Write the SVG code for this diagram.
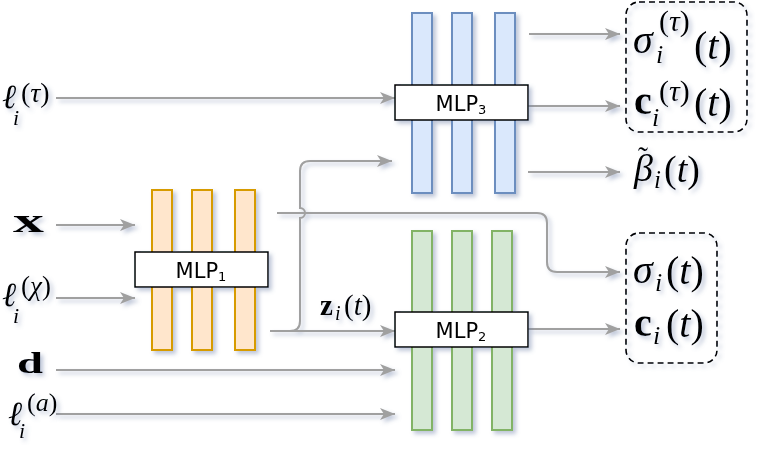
<svg xmlns="http://www.w3.org/2000/svg" width="772" height="460" viewBox="0 0 772 460">
<defs>
  <filter id="sh" x="-20%" y="-20%" width="140%" height="140%">
    <feDropShadow dx="3" dy="3" stdDeviation="2" flood-color="#7080a8" flood-opacity="0.45"/>
  </filter>
  <marker id="ah" markerUnits="userSpaceOnUse" markerWidth="16" markerHeight="12" refX="15" refY="6" orient="auto">
    <path d="M0,0 L15,6 L0,12 L4,6 z" fill="#a0a0a0"/>
  </marker>
</defs>
<style>
  .conn{fill:none;stroke:#a0a0a0;stroke-width:2;marker-end:url(#ah)}
  .bo{fill:#ffe6cc;stroke:#d79b00;stroke-width:2}
  .bb{fill:#dae8fc;stroke:#6c8ebf;stroke-width:2}
  .bg{fill:#d5e8d4;stroke:#82b366;stroke-width:2}
  .lbl{fill:#fff;stroke:#000;stroke-width:1.5}
  .mlp{font-family:"DejaVu Sans",sans-serif;font-size:21px;fill:#000}
  .m{font-family:"Liberation Serif","DejaVu Serif",serif;fill:#000}
  .it{font-style:italic}
  .up{font-style:normal}
  .dash{fill:none;stroke:#000;stroke-width:1.6;stroke-dasharray:6,4}
</style>

<g id="connectors" filter="url(#sh)">
  <path class="conn" d="M56,98 H395"/>
  <path class="conn" d="M56,225 H135"/>
  <path class="conn" d="M56,298 H135"/>
  <path class="conn" d="M56,370 H395"/>
  <path class="conn" d="M56,414 H395"/>
  <path class="conn" d="M270,331 H395"/>
  <path class="conn" d="M290,331 Q300,331 300,321 V218 A5,5 0 0 0 300,208 V171 Q300,161 310,161 H392"/>
  <path class="conn" d="M277,213 H537 Q547,213 547,223 V262 Q547,272 557,272 H620"/>
  <path class="conn" d="M529,34 H620"/>
  <path class="conn" d="M528,106 H620"/>
  <path class="conn" d="M528,172 H620"/>
  <path class="conn" d="M528,329 H620"/>
</g>

<g id="mlp1" filter="url(#sh)">
  <rect class="bo" x="152" y="190" width="20" height="160"/>
  <rect class="bo" x="192" y="190" width="20" height="160"/>
  <rect class="bo" x="235" y="190" width="20" height="160"/>
  <rect class="lbl" x="135" y="252" width="133" height="35"/>
  <text class="mlp" x="201" y="277.5" text-anchor="middle">MLP<tspan font-size="13" dy="3">1</tspan></text>
</g>

<g id="mlp3" filter="url(#sh)">
  <rect class="bb" x="412" y="13" width="20" height="180"/>
  <rect class="bb" x="452" y="13" width="20" height="180"/>
  <rect class="bb" x="495" y="13" width="20" height="180"/>
  <rect class="lbl" x="395" y="85" width="133" height="35"/>
  <text class="mlp" x="461" y="110.5" text-anchor="middle">MLP<tspan font-size="13" dy="3">3</tspan></text>
</g>

<g id="mlp2" filter="url(#sh)">
  <rect class="bg" x="412" y="231" width="20" height="199"/>
  <rect class="bg" x="452" y="231" width="20" height="199"/>
  <rect class="bg" x="492" y="231" width="20" height="199"/>
  <rect class="lbl" x="395" y="312" width="133" height="35"/>
  <text class="mlp" x="461" y="337.5" text-anchor="middle">MLP<tspan font-size="13" dy="3">2</tspan></text>
</g>

<g id="inputs" filter="url(#sh)">
  <text class="m it" x="2" y="108" font-size="34">ℓ<tspan x="13" y="125" font-size="22">i</tspan><tspan class="up" x="21" y="102" font-size="28">(<tspan class="it">τ</tspan>)</tspan></text>
  <text class="m" x="13" y="232" font-size="34" font-weight="bold" textLength="31" lengthAdjust="spacingAndGlyphs">x</text>
  <text class="m it" x="2" y="306" font-size="34">ℓ<tspan x="13" y="323" font-size="22">i</tspan><tspan class="up" x="21" y="295" font-size="27">(<tspan class="it">χ</tspan>)</tspan></text>
  <text class="m" x="17" y="373" font-size="30" font-weight="bold" textLength="26" lengthAdjust="spacingAndGlyphs">d</text>
  <text class="m it" x="8" y="425" font-size="34">ℓ<tspan x="19" y="438" font-size="22">i</tspan><tspan class="up" x="27" y="411" font-size="26">(<tspan class="it">a</tspan>)</tspan></text>
  <text class="m" x="320" y="315" font-size="29"><tspan font-weight="bold">z</tspan><tspan class="it" x="335" y="320" font-size="20">i</tspan><tspan x="344" y="315">(<tspan class="it">t</tspan>)</tspan></text>
</g>

<g id="out3" filter="url(#sh)">
  <rect class="dash" x="626" y="2" width="121" height="130" rx="13"/>
  <text class="m" x="633" y="53" font-size="40"><tspan class="it">σ</tspan><tspan class="it" x="656" y="63" font-size="26">i</tspan><tspan x="659" y="31" font-size="30">(<tspan class="it">τ</tspan>)</tspan><tspan x="694" y="59">(<tspan class="it">t</tspan>)</tspan></text>
  <text class="m" x="634" y="114" font-size="40"><tspan font-weight="bold">c</tspan><tspan class="it" x="652" y="126" font-size="26">i</tspan><tspan x="659" y="101" font-size="30">(<tspan class="it">τ</tspan>)</tspan><tspan x="694" y="116">(<tspan class="it">t</tspan>)</tspan></text>
</g>

<g id="beta" filter="url(#sh)">
  <text class="m" x="634" y="181" font-size="38"><tspan class="it">β</tspan><tspan x="638" y="167" font-size="30">˜</tspan><tspan class="it" x="654" y="188" font-size="25">i</tspan><tspan x="664" y="182">(<tspan class="it">t</tspan>)</tspan></text>
</g>

<g id="out2" filter="url(#sh)">
  <rect class="dash" x="626" y="233" width="91" height="130" rx="13"/>
  <text class="m" x="633" y="283" font-size="40"><tspan class="it">σ</tspan><tspan class="it" x="655" y="291" font-size="26">i</tspan><tspan x="666" y="284">(<tspan class="it">t</tspan>)</tspan></text>
  <text class="m" x="634" y="336" font-size="40"><tspan font-weight="bold">c</tspan><tspan class="it" x="653" y="344" font-size="26">i</tspan><tspan x="666" y="337">(<tspan class="it">t</tspan>)</tspan></text>
</g>
</svg>
